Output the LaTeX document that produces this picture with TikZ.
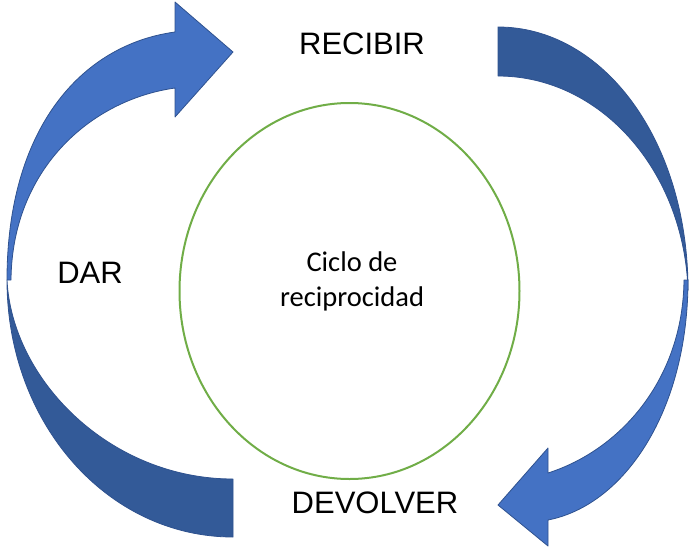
\documentclass[tikz,border=0pt]{standalone}
\usepackage{fontspec}
\setmainfont{Liberation Sans}
\newfontfamily\calibri{Carlito}
\usetikzlibrary{shapes}

\definecolor{frente}{HTML}{4472C4}
\definecolor{fondo}{HTML}{335A98}
\definecolor{borde}{HTML}{2F528F}
\definecolor{verde}{HTML}{70AD47}

\begin{document}
\begin{tikzpicture}[x = 1pt, y = -1pt]
\tikzstyle{FrenteStyle}=[fill = frente,
                         draw = borde,
                         line width = 0.8pt,
                         line join = round]
\tikzstyle{FondoStyle}=[fill = fondo,
                        draw = borde,
                        line width = 0.8pt,
                        line join = round]
\tikzstyle{EtiquetaStyle}=[inner sep = 0pt,
                           font = \fontsize{31}{37}\selectfont]
\useasboundingbox (0,0) rectangle (689,547);
\node[ellipse, draw = verde, line width = 2pt, minimum width = 340pt, minimum height = 376pt] (ciclo) at (349.5, 291) {};
\draw[FondoStyle] (7,280) .. controls (7,424) and (108,537) .. (233,537) -- (233,479) .. controls (110,479) and (12,380) .. (7,280) -- cycle;
\draw[FrenteStyle] (7,280) .. controls (7,130) and (80,45) .. (175,32) -- (175,2) -- (233,52) -- (175,117) -- (175,88) .. controls (90,100) and (12,170) .. (11,280) -- cycle;
\draw[FondoStyle] (498,27) .. controls (603,27) and (688,140) .. (688,290) .. controls (684,170) and (600,76) .. (498,76) -- cycle;
\draw[FrenteStyle] (688,280) .. controls (688,410) and (625,505) .. (548,520) -- (548,546) -- (498,505) -- (548,448) -- (548,473) .. controls (620,450) and (683,380) .. (684,280) -- cycle;
\node[EtiquetaStyle] (recibir) at (362, 44) {RECIBIR};
\node[EtiquetaStyle] (dar) at (90, 273) {DAR};
\node[EtiquetaStyle] (devolver) at (375, 503) {DEVOLVER};
\node[inner sep = 0pt, align = center, font = \calibri\fontsize{28.5}{35}\selectfont] (texto) at (352, 281) {Ciclo de\\reciprocidad};
\end{tikzpicture}
\end{document}
